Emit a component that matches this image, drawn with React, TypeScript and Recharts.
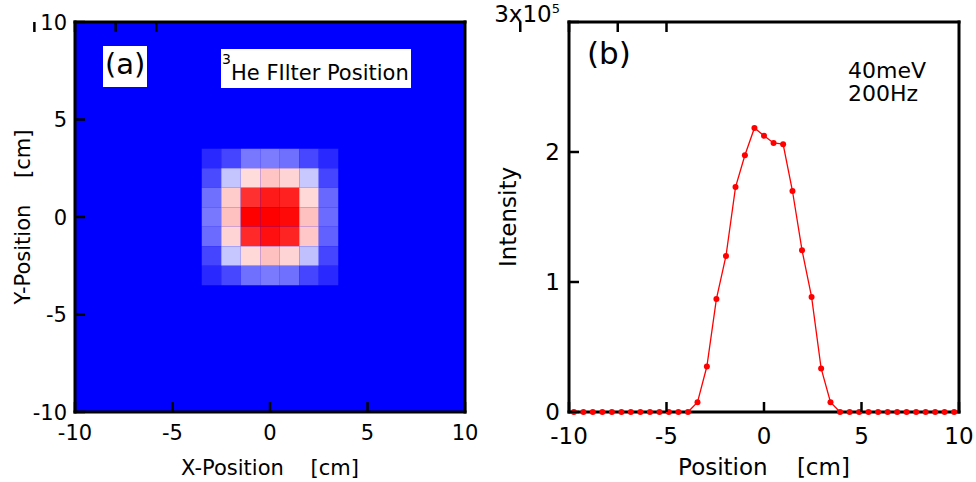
import React from "react";
import {
  ComposedChart,
  LineChart,
  Line,
  Scatter,
  XAxis,
  YAxis,
  ReferenceArea,
} from "recharts";

// (a) beam map at the 3He filter, 1 cm cells, rows from top (+3 cm) to bottom (-3 cm)
const cellX = [-3, -2, -1, 0, 1, 2, 3];
const cellY = [3, 2, 1, 0, -1, -2, -3];
const mapRows = [
  [0.08, 0.135, 0.235, 0.243, 0.22, 0.14, 0.08],
  [0.145, 0.385, 0.568, 0.615, 0.584, 0.392, 0.135],
  [0.22, 0.6, 0.906, 0.95, 0.937, 0.576, 0.204],
  [0.235, 0.624, 1.0, 1.0, 0.985, 0.624, 0.21],
  [0.21, 0.584, 0.92, 0.97, 0.93, 0.61, 0.19],
  [0.135, 0.39, 0.576, 0.624, 0.584, 0.376, 0.135],
  [0.08, 0.14, 0.22, 0.24, 0.22, 0.135, 0.08],
];

// (b) horizontal profile
const positions = [
  -9.75, -9.26, -8.78, -8.29, -7.8, -7.31, -6.83, -6.34, -5.85, -5.36, -4.88,
  -4.39, -3.9, -3.41, -2.93, -2.44, -1.95, -1.46, -0.98, -0.49, 0, 0.49, 0.98,
  1.46, 1.95, 2.44, 2.93, 3.41, 3.9, 4.39, 4.88, 5.36, 5.85, 6.34, 6.83, 7.31,
  7.8, 8.29, 8.78, 9.26, 9.75,
];
const intensity = [
  0, 0, 0, 0, 0, 0, 0, 0, 0, 0, 0, 0, 0, 7500, 35000, 87000, 120000, 173000,
  197500, 218500, 212500, 207000, 206000, 170000, 124500, 88500, 33500, 7500,
  0, 0, 0, 0, 0, 0, 0, 0, 0, 0, 0, 0, 0,
];

const posTicks = [-10, -5, 0, 5, 10];
const intensityTicks = [0, 100000, 200000, 300000];

const cells = mapRows.flatMap((row, r) =>
  row.map((v, c) => ({ x: cellX[c], y: cellY[r], v }))
);
const profile = positions.map((p, i) => ({ position: p, intensity: intensity[i] }));

// blue -> white -> red
const heatColor = (v: number) => {
  if (v <= 0.5) {
    const c = Math.round(v * 2 * 255);
    return `rgb(${c},${c},255)`;
  }
  const c = Math.round((1 - v) * 2 * 255);
  return `rgb(255,${c},${c})`;
};

const MARK = 10;
type Side = "bottom" | "top" | "left" | "right";
const frameLine = { stroke: "#000", strokeWidth: 3, strokeLinecap: "square" as const };

// tick renderer: inward tick mark plus optional label
const makeTick =
  (side: Side, gap: number, fontSize: number, withLabel: boolean) =>
  (props: any) => {
    const x = Number(props.x);
    const y = Number(props.y);
    const value = props.payload.value;
    let mark = null;
    if (side === "bottom") mark = <line x1={x} x2={x} y1={y - gap} y2={y - gap - MARK} />;
    if (side === "top") mark = <line x1={x} x2={x} y1={y} y2={y + MARK} />;
    if (side === "left") mark = <line x1={x + gap} x2={x + gap + MARK} y1={y} y2={y} />;
    if (side === "right") mark = <line x1={x} x2={x - MARK} y1={y} y2={y} />;
    let label = null;
    if (withLabel && side === "bottom") {
      label = (
        <text x={x} y={y} dy="0.72em" textAnchor="middle" fontSize={fontSize} fill="#000">
          {value}
        </text>
      );
    }
    if (withLabel && side === "left") {
      label = (
        <text x={x} y={y} dy="0.36em" textAnchor="end" fontSize={fontSize} fill="#000">
          {value}
        </text>
      );
    }
    return (
      <g>
        <g stroke="#000" strokeWidth={2.5}>{mark}</g>
        {label}
      </g>
    );
  };

const IntensityTick = (props: any) => {
  const x = Number(props.x);
  const y = Number(props.y);
  const v = props.payload.value / 100000;
  return (
    <g>
      <line x1={x + 9} x2={x + 9 + MARK} y1={y} y2={y} stroke="#000" strokeWidth={2.5} />
      {v === 3 ? (
        <text x={x} y={y} textAnchor="end" fontSize={23} fill="#000">
          3x10
          <tspan dy={-9} fontSize={13}>
            5
          </tspan>
        </text>
      ) : (
        <text x={x} y={y} dy="0.36em" textAnchor="end" fontSize={23} fill="#000">
          {v}
        </text>
      )}
    </g>
  );
};

const MapPanel = () => (
  <ComposedChart
    width={488}
    height={482}
    data={cells}
    margin={{ top: 21, right: 22, bottom: 0, left: 0 }}
  >
    <ReferenceArea
      x1={-10}
      x2={10}
      y1={-10}
      y2={10}
      fill={heatColor(0)}
      fillOpacity={1}
      stroke="none"
      ifOverflow="visible"
    />
    {cells.map((c, i) => (
      <ReferenceArea
        key={i}
        x1={c.x - 0.5}
        x2={c.x + 0.5}
        y1={c.y - 0.5}
        y2={c.y + 0.5}
        fill={heatColor(c.v)}
        fillOpacity={1}
        stroke="none"
      />
    ))}
    <Scatter dataKey="y" fill="none" isAnimationActive={false} />
    <XAxis
      type="number"
      dataKey="x"
      domain={[-10, 10]}
      ticks={posTicks}
      interval={0}
      height={70}
      axisLine={frameLine}
      tickLine={false}
      tickSize={0}
      tickMargin={13}
      tick={makeTick("bottom", 13, 21, true)}
      label={{
        value: "X-Position\u00a0\u00a0\u00a0\u00a0[cm]",
        position: "insideBottom",
        offset: 7,
        fill: "#000",
        fontSize: 21,
      }}
    />
    <XAxis
      xAxisId="top"
      orientation="top"
      type="number"
      domain={[-10, 10]}
      ticks={posTicks}
      interval={0}
      height={1}
      axisLine={frameLine}
      tickLine={false}
      tickSize={0}
      tickMargin={0}
      tick={makeTick("top", 0, 21, false)}
    />
    <YAxis
      type="number"
      dataKey="y"
      domain={[-10, 10]}
      ticks={posTicks}
      interval={0}
      width={75}
      axisLine={frameLine}
      tickLine={false}
      tickSize={0}
      tickMargin={8}
      tick={makeTick("left", 8, 21, true)}
      label={{
        value: "Y-Position\u00a0\u00a0\u00a0\u00a0[cm]",
        angle: -90,
        position: "insideLeft",
        offset: 23,
        fill: "#000",
        fontSize: 21,
        style: { textAnchor: "middle" },
      }}
    />
    <YAxis
      yAxisId="right"
      orientation="right"
      type="number"
      domain={[-10, 10]}
      ticks={posTicks}
      interval={0}
      width={1}
      axisLine={frameLine}
      tickLine={false}
      tickSize={0}
      tickMargin={0}
      tick={makeTick("right", 0, 21, false)}
    />
  </ComposedChart>
);

const ProfilePanel = () => (
  <LineChart
    width={488}
    height={482}
    data={profile}
    margin={{ top: 21, right: 16, bottom: 0, left: 0 }}
  >
    <XAxis
      type="number"
      dataKey="position"
      domain={[-10, 10]}
      ticks={posTicks}
      interval={0}
      height={70}
      axisLine={frameLine}
      tickLine={false}
      tickSize={0}
      tickMargin={15}
      tick={makeTick("bottom", 15, 23, true)}
      label={{
        value: "Position\u00a0\u00a0\u00a0\u00a0[cm]",
        position: "insideBottom",
        offset: 7,
        fill: "#000",
        fontSize: 23,
      }}
    />
    <XAxis
      xAxisId="top"
      orientation="top"
      type="number"
      domain={[-10, 10]}
      ticks={posTicks}
      interval={0}
      height={1}
      axisLine={frameLine}
      tickLine={false}
      tickSize={0}
      tickMargin={0}
      tick={makeTick("top", 0, 23, false)}
    />
    <YAxis
      type="number"
      domain={[0, 300000]}
      ticks={intensityTicks}
      interval={0}
      width={81}
      axisLine={frameLine}
      tickLine={false}
      tickSize={0}
      tickMargin={9}
      tick={IntensityTick}
      label={{
        value: "Intensity",
        angle: -90,
        position: "insideLeft",
        offset: 20,
        fill: "#000",
        fontSize: 23,
        style: { textAnchor: "middle" },
      }}
    />
    <YAxis
      yAxisId="right"
      orientation="right"
      type="number"
      domain={[0, 300000]}
      ticks={intensityTicks}
      interval={0}
      width={1}
      axisLine={frameLine}
      tickLine={false}
      tickSize={0}
      tickMargin={0}
      tick={makeTick("right", 0, 23, false)}
    />
    <Line
      type="linear"
      dataKey="intensity"
      stroke="#ff0000"
      strokeWidth={1.3}
      dot={{ r: 3, fill: "#ff0000", stroke: "none" }}
      isAnimationActive={false}
    />
  </LineChart>
);

export default function App() {
  return (
    <div
      style={{
        position: "absolute",
        left: 0,
        top: 0,
        width: 976,
        height: 482,
        background: "#fff",
        fontFamily: "DejaVu Sans",
      }}
    >
      <div style={{ position: "absolute", left: 0, top: 0 }}>
        <MapPanel />
      </div>
      <div style={{ position: "absolute", left: 488, top: 0 }}>
        <ProfilePanel />
      </div>
      <svg
        width={976}
        height={482}
        style={{ position: "absolute", left: 0, top: 0, pointerEvents: "none" }}
      >
        <rect x={103} y={46} width={44} height={41} fill="#fff" />
        <text x={105} y={74} fontSize={29} fill="#000">
          (a)
        </text>
        <rect x={221} y={49} width={190} height={39} fill="#fff" />
        <text x={222} y={64} fontSize={14} fill="#000">
          3
        </text>
        <text x={231} y={80} fontSize={21} fill="#000">
          He FIlter Position
        </text>
        <text x={587} y={64} fontSize={31} fill="#000">
          (b)
        </text>
        <text x={848} y={78} fontSize={22} fill="#000">
          40meV
        </text>
        <text x={848} y={101} fontSize={22} fill="#000">
          200Hz
        </text>
      </svg>
    </div>
  );
}
